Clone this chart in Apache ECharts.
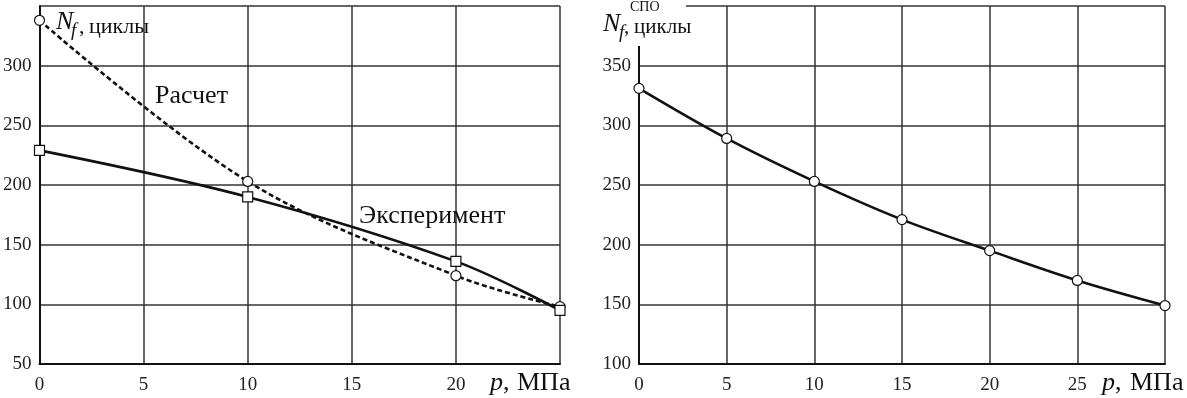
<!DOCTYPE html>
<html>
<head>
<meta charset="utf-8">
<script src="https://cdn.jsdelivr.net/npm/echarts@6/dist/echarts.min.js"></script>
<style>
html,body{margin:0;padding:0;background:#fff;}
#chart{width:1187px;height:398px;}
</style>
</head>
<body>
<div id="chart"></div>
<script>
// ---- Data ----
const pressureLeft = [0, 10, 20, 25];
const calcCycles = [338, 203, 124, 98];      // Расчет
const expCycles = [229, 190, 136, 95];       // Эксперимент
const pressureRight = [0, 5, 10, 15, 20, 25, 30];
const spoCycles = [331, 289, 253, 221, 195, 170, 149];
const leftYTicks = [50, 350, 50];   // min, max, step
const rightYTicks = [100, 400, 50];
const leftXTicks = [0, 25, 5];
const rightXTicks = [0, 30, 5];

const FONT = 'Liberation Serif';
const pairs = (xs, ys) => xs.map((x, i) => [x, ys[i]]);

const chart = echarts.init(document.getElementById('chart'), null, {renderer: 'canvas'});

function xAxisDef(gi, t) {
  return {
    type: 'value', gridIndex: gi, min: t[0], max: t[1], interval: t[2],
    axisLine: {show: true, onZero: false, lineStyle: {color: '#111', width: 2}},
    axisTick: {show: false},
    axisLabel: {showMaxLabel: false, color: '#222', fontFamily: FONT, fontSize: 19, margin: 12},
    splitLine: {show: true, lineStyle: {color: '#333', width: 1.5}}
  };
}
function yAxisDef(gi, t) {
  return {
    type: 'value', gridIndex: gi, min: t[0], max: t[1], interval: t[2],
    axisLine: {show: true, onZero: false, lineStyle: {color: '#111', width: 2}},
    axisTick: {show: false},
    axisLabel: {showMaxLabel: false, color: '#222', fontFamily: FONT, fontSize: 19, margin: 8},
    splitLine: {show: true, lineStyle: {color: '#333', width: 1.5}}
  };
}

// baseline-positioned text (canvas 'middle' ≈ baseline - 0.27 * size)
function txt(x, baseline, text, size, italic) {
  return {
    type: 'text', z: 100, x: x, y: Math.round(baseline - 0.27 * size),
    style: {
      text: text, fill: '#111',
      fontFamily: FONT, fontSize: size, fontStyle: italic ? 'italic' : 'normal',
      align: 'left', verticalAlign: 'middle'
    }
  };
}

const option = {
  animation: false,
  backgroundColor: '#fff',
  textStyle: {fontFamily: FONT},
  grid: [
    {left: 37, top: 6, width: 523, height: 358},
    {left: 639, top: 6, width: 526, height: 358}
  ],
  xAxis: [xAxisDef(0, leftXTicks), xAxisDef(1, rightXTicks)],
  yAxis: [yAxisDef(0, leftYTicks), yAxisDef(1, rightYTicks)],
  series: [
    {
      name: 'Расчет', type: 'line', xAxisIndex: 0, yAxisIndex: 0,
      data: pairs(pressureLeft, calcCycles),
      smooth: 0.35, clip: false,
      symbol: 'circle', symbolSize: 10,
      lineStyle: {color: '#111', width: 2.6, type: [5, 3]},
      itemStyle: {color: '#fff', borderColor: '#111', borderWidth: 1.2},
      z: 2
    },
    {
      name: 'Эксперимент', type: 'line', xAxisIndex: 0, yAxisIndex: 0,
      data: pairs(pressureLeft, expCycles),
      smooth: 0.35, clip: false,
      symbol: 'rect', symbolSize: 10,
      lineStyle: {color: '#111', width: 2.6},
      itemStyle: {color: '#fff', borderColor: '#111', borderWidth: 1.2},
      z: 3
    },
    {
      name: 'СПО', type: 'line', xAxisIndex: 1, yAxisIndex: 1,
      data: pairs(pressureRight, spoCycles),
      smooth: 0.35, clip: false,
      symbol: 'circle', symbolSize: 10,
      lineStyle: {color: '#111', width: 2.6},
      itemStyle: {color: '#fff', borderColor: '#111', borderWidth: 1.2},
      z: 3
    }
  ],
  graphic: [
    // left title
    txt(56, 29, 'N', 26, true),
    txt(71, 36, 'f', 19, true),
    txt(79, 33, ',', 22, false),
    txt(89, 33, 'циклы', 22, false),
    // series labels
    txt(155, 103, 'Расчет', 26, false),
    txt(359, 223, 'Эксперимент', 26, false),
    // x axis names
    txt(490, 390, 'p', 26, true),
    txt(503, 390, ',', 26, false),
    txt(517, 390, 'МПа', 26, false),
    txt(1102, 390, 'p', 26, true),
    txt(1115, 390, ',', 26, false),
    txt(1130, 390, 'МПа', 26, false),
    // right title with white background
    {type: 'rect', z: 90, shape: {x: 598, y: 0, width: 88, height: 46}, style: {fill: '#fff'}},
    txt(603, 31, 'N', 26, true),
    txt(619, 38, 'f', 19, true),
    txt(624, 33, ',', 21, false),
    txt(634, 33, 'циклы', 21, false),
    txt(630, 11, 'СПО', 14, false)
  ]
};
chart.setOption(option);
</script>
</body>
</html>
